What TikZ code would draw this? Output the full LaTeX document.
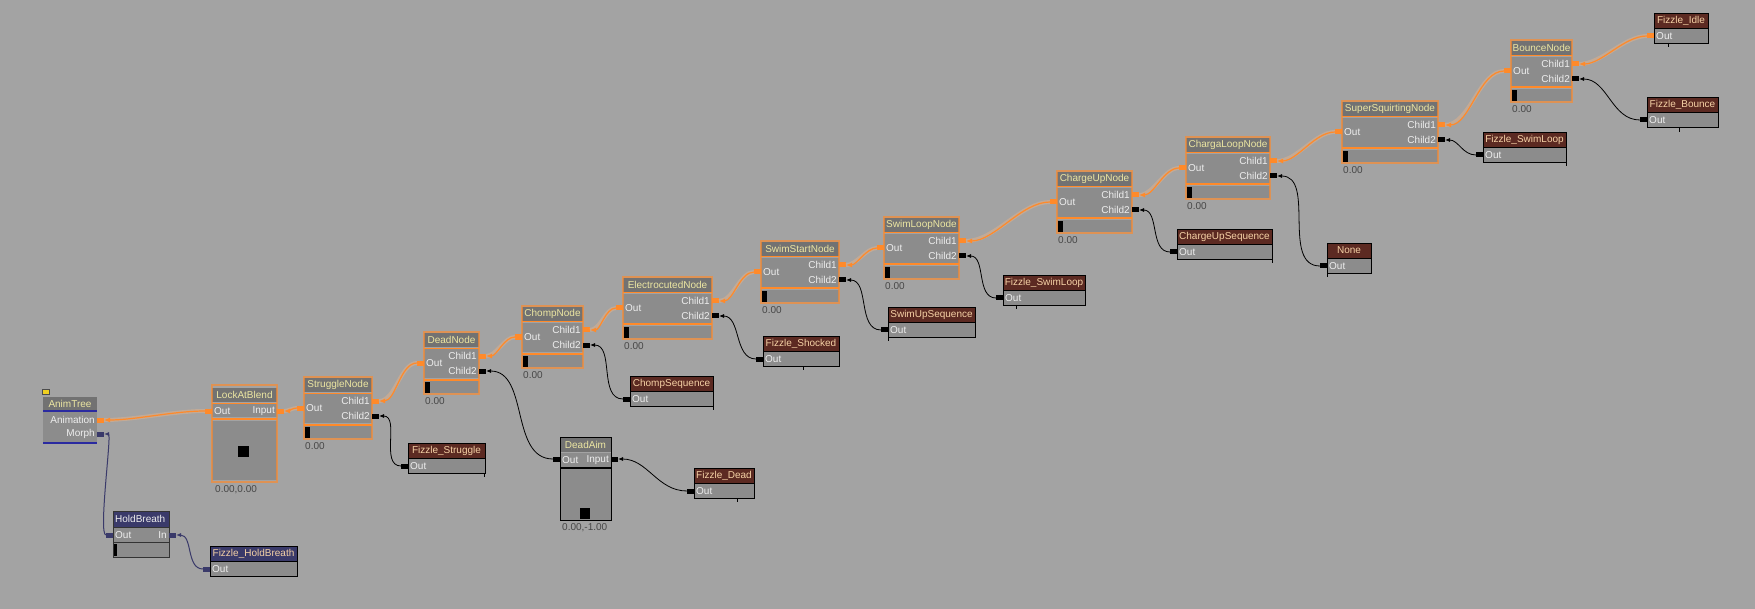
\documentclass[tikz,border=0pt]{standalone}
\usepackage{fontspec}
\setmainfont{Liberation Sans}
\usetikzlibrary{arrows.meta}

\definecolor{canvas}{HTML}{A3A3A3}
\definecolor{titlegray}{HTML}{727272}
\definecolor{bodygray}{HTML}{8C8C8C}
\definecolor{seqred}{HTML}{5C2A22}
\definecolor{holdblue}{HTML}{3A3A6A}
\definecolor{wireorange}{HTML}{FF8A2A}
\definecolor{titleyellow}{HTML}{ECE6A2}
\definecolor{seqtext}{HTML}{F6D2A6}
\definecolor{bodytextc}{HTML}{EEEEEE}
\definecolor{treeblue}{HTML}{2A2AA0}
\definecolor{flagyellow}{HTML}{F0D020}

\tikzset{
  port/.style={fill=black, draw=none, minimum width=7pt, minimum height=5pt, inner sep=0pt, outer sep=0pt},
  activeport/.style={port, fill=wireorange},
  blueport/.style={port, fill=holdblue},
  titletext/.style={text=titleyellow, inner sep=0pt},
  seqtitle/.style={text=seqtext, inner sep=0pt},
  bodytext/.style={text=bodytextc, inner sep=0pt},
  valtext/.style={text=black!72, inner sep=0pt},
  glow/.style={draw=wireorange, line width=1.2pt, opacity=0.65},
  wire/.style={draw=black, line width=0.8pt, out=180, in=0, -{Latex[length=5pt,width=4pt]}},
  activewire/.style={draw=wireorange, line width=1.2pt, out=180, in=0, looseness=0.8, -{Latex[length=6pt,width=5pt]},
    preaction={-, draw=wireorange!60!white, line width=4pt, opacity=0.35}},
  bluewire/.style={draw=holdblue, line width=1pt, out=180, in=0, -{Latex[length=5pt,width=4pt]}},
}

% blend node: name, x, y, width, title
\newcommand{\blendnode}[5]{%
  \begin{scope}[shift={(#2,#3)}]
    \fill[titlegray] (0,1) rectangle (#4,15);
    \fill[bodygray] (0,17) rectangle (#4,46);
    \fill[bodygray] (0,49) rectangle (#4,61);
    \fill[black] (1,50) rectangle (6,61);
    \draw[wireorange, line width=1pt] (0,16) -- (#4,16);
    \draw[wireorange, line width=2pt] (0,47.5) -- (#4,47.5);
    \draw[glow] (0,0) rectangle (#4,62);
    \node[titletext] (#1) at (#4/2,8) {#5};
    \node[bodytext, anchor=west] at (2,31) {Out};
    \node[bodytext, anchor=east] at (#4-2,24) {Child1};
    \node[bodytext, anchor=east] at (#4-2,39) {Child2};
    \node[valtext, anchor=north west] at (1,65) {0.00};
    \node[activeport] (#1-out) at (-3.5,31) {};
    \node[activeport] (#1-c1) at (#4+3.5,24) {};
    \node[port] (#1-c2) at (#4+3.5,39) {};
  \end{scope}}

% sequence node: name, x, y, width, title, title fill, port style
\newcommand{\seqnode}[7]{%
  \begin{scope}[shift={(#2,#3)}]
    \fill[#6] (0,0) rectangle (#4,15);
    \fill[bodygray] (0,15) rectangle (#4,30);
    \draw[black, line width=0.8pt] (0,0) rectangle (#4,30);
    \draw[black, line width=0.8pt] (0,15) -- (#4,15);
    \node[seqtitle] (#1) at (#4/2,7.5) {#5};
    \node[bodytext, anchor=west] at (2,23) {Out};
    \node[#7] (#1-out) at (-3.5,23) {};
  \end{scope}}

\begin{document}
\begin{tikzpicture}[x=1pt, y=-1pt, font=\fontsize{10}{12}\selectfont]
  \useasboundingbox (0,0) rectangle (1755,609);
  \fill[canvas] (0,0) rectangle (1755,609);

  % root
  \begin{scope}[shift={(43,397)}]
    \filldraw[fill=flagyellow, draw=black!70, line width=0.5pt] (-1,-8) rectangle (6,-3);
    \fill[titlegray] (0,0) rectangle (54,13);
    \fill[bodygray] (0,15) rectangle (54,45);
    \draw[treeblue, line width=1.2pt] (0,14) -- (54,14);
    \draw[treeblue, line width=2pt] (0,46) -- (54,46);
    \node[titletext] (animtree) at (27,6.5) {AnimTree};
    \node[bodytext, anchor=east] at (52,23) {Animation};
    \node[bodytext, anchor=east] at (52,37) {Morph};
    \node[activeport] (animtree-anim) at (57.5,23) {};
    \node[blueport] (animtree-morph) at (57.5,37) {};
  \end{scope}

  \begin{scope}[shift={(212,385)}]
    \fill[titlegray] (0,3) rectangle (65,17);
    \fill[bodygray] (0,19) rectangle (65,32);
    \fill[bodygray] (0,36) rectangle (65,95);
    \fill[black] (26,61) rectangle (37,72);
    \draw[wireorange, line width=1pt] (0,18) -- (65,18);
    \draw[wireorange, line width=2pt] (0,34) -- (65,34);
    \draw[glow] (0,0) rectangle (65,97);
    \node[titletext] (lockat) at (32.5,10) {LockAtBlend};
    \node[bodytext, anchor=west] at (2,26) {Out};
    \node[bodytext, anchor=east] at (63,26) {Input};
    \node[valtext, anchor=north west] at (3,100) {0.00,0.00};
    \node[activeport] (lockat-out) at (-3.5,26) {};
    \node[activeport] (lockat-in) at (68.5,26) {};
  \end{scope}

  \begin{scope}[shift={(560,437)}]
    \fill[titlegray] (0,0) rectangle (51,15);
    \fill[bodygray] (0,16) rectangle (51,30);
    \fill[bodygray] (0,32) rectangle (51,83);
    \fill[black] (20,71) rectangle (30,82);
    \draw[black, line width=1.5pt] (0,31) -- (51,31);
    \draw[black, line width=0.8pt] (0,0) rectangle (51,83);
    \node[titletext] (deadaim) at (25.5,7.5) {DeadAim};
    \node[bodytext, anchor=west] at (2,23) {Out};
    \node[bodytext, anchor=east] at (49,23) {Input};
    \node[valtext, anchor=north west] at (2,86) {0.00,-1.00};
    \node[port] (deadaim-out) at (-3.5,22) {};
    \node[port] (deadaim-in) at (54.5,22) {};
  \end{scope}

  \begin{scope}[shift={(113,511)}]
    \fill[holdblue] (0,0) rectangle (56,16);
    \fill[bodygray] (0,17) rectangle (56,31);
    \fill[bodygray] (0,32) rectangle (56,46);
    \fill[black] (0,33) rectangle (4,45);
    \draw[black!80, line width=0.8pt] (0,0) rectangle (56,46);
    \draw[black!80, line width=0.8pt] (0,16.5) -- (56,16.5) (0,31.5) -- (56,31.5);
    \node[seqtitle, text=bodytextc, anchor=west] (holdbreath) at (2,8) {HoldBreath};
    \node[bodytext, anchor=west] at (2,24) {Out};
    \node[bodytext, anchor=east] at (54,24) {In};
    \node[blueport] (holdbreath-out) at (-3.5,24) {};
    \node[blueport] (holdbreath-in) at (59.5,24) {};
  \end{scope}

  \blendnode{struggle}{304}{377}{68}{StruggleNode}
  \blendnode{dead}{424}{332}{55}{DeadNode}
  \blendnode{chomp}{522}{306}{61}{ChompNode}
  \blendnode{electro}{623}{277}{89}{ElectrocutedNode}
  \blendnode{swimstart}{761}{241}{78}{SwimStartNode}
  \blendnode{swimloop}{884}{217}{75}{SwimLoopNode}
  \blendnode{chargeup}{1057}{171}{75}{ChargeUpNode}
  \blendnode{chargaloop}{1186}{137}{84}{ChargaLoopNode}
  \blendnode{supersq}{1342}{101}{96}{SuperSquirtingNode}
  \blendnode{bounce}{1511}{40}{61}{BounceNode}

  \seqnode{fstruggle}{408}{443}{77}{Fizzle\_Struggle}{seqred}{port}
  \seqnode{fdead}{694}{468}{60}{Fizzle\_Dead}{seqred}{port}
  \seqnode{chompseq}{630}{376}{83}{ChompSequence}{seqred}{port}
  \seqnode{fshocked}{763}{336}{76}{Fizzle\_Shocked}{seqred}{port}
  \seqnode{swimupseq}{888}{307}{87}{SwimUpSequence}{seqred}{port}
  \seqnode{fswimloopA}{1003}{275}{82}{Fizzle\_SwimLoop}{seqred}{port}
  \seqnode{chargeupseq}{1177}{229}{95}{ChargeUpSequence}{seqred}{port}
  \seqnode{none}{1327}{243}{44}{None}{seqred}{port}
  \seqnode{fswimloopB}{1483}{132}{83}{Fizzle\_SwimLoop}{seqred}{port}
  \seqnode{fbounce}{1647}{97}{71}{Fizzle\_Bounce}{seqred}{port}
  \seqnode{fidle}{1654}{13}{54}{Fizzle\_Idle}{seqred}{activeport}
  \seqnode{fholdbreath}{210}{546}{87}{Fizzle\_HoldBreath}{holdblue}{blueport}

  \foreach \tx/\ty in {484/473, 737/498, 713/406, 803/366, 888/337, 1016/305,
      1272/259, 1327/273, 1566/162, 1679/128, 1668/43}
    \draw[black, line width=0.8pt] (\tx,\ty) -- ++(0,4);

  \draw[activewire] (lockat-out.west) to (animtree-anim.east);
  \draw[activewire] (struggle-out.west) to (lockat-in.east);
  \draw[activewire] (dead-out.west) to (struggle-c1.east);
  \draw[activewire] (chomp-out.west) to (dead-c1.east);
  \draw[activewire] (electro-out.west) to (chomp-c1.east);
  \draw[activewire] (swimstart-out.west) to (electro-c1.east);
  \draw[activewire] (swimloop-out.west) to (swimstart-c1.east);
  \draw[activewire] (chargeup-out.west) to (swimloop-c1.east);
  \draw[activewire] (chargaloop-out.west) to (chargeup-c1.east);
  \draw[activewire] (supersq-out.west) to (chargaloop-c1.east);
  \draw[activewire] (bounce-out.west) to (supersq-c1.east);
  \draw[activewire] (fidle-out.west) to (bounce-c1.east);

  \draw[wire] (fstruggle-out.west) to (struggle-c2.east);
  \draw[wire] (deadaim-out.west) to (dead-c2.east);
  \draw[wire] (fdead-out.west) to (deadaim-in.east);
  \draw[wire] (chompseq-out.west) to (chomp-c2.east);
  \draw[wire] (fshocked-out.west) to (electro-c2.east);
  \draw[wire] (swimupseq-out.west) to (swimstart-c2.east);
  \draw[wire] (fswimloopA-out.west) to (swimloop-c2.east);
  \draw[wire] (chargeupseq-out.west) to (chargeup-c2.east);
  \draw[wire] (none-out.west) to (chargaloop-c2.east);
  \draw[wire] (fswimloopB-out.west) to (supersq-c2.east);
  \draw[wire] (fbounce-out.west) to (bounce-c2.east);

  \draw[bluewire, looseness=0.2] (holdbreath-out.west) to (animtree-morph.east);
  \draw[bluewire] (fholdbreath-out.west) to (holdbreath-in.east);
\end{tikzpicture}
\end{document}
